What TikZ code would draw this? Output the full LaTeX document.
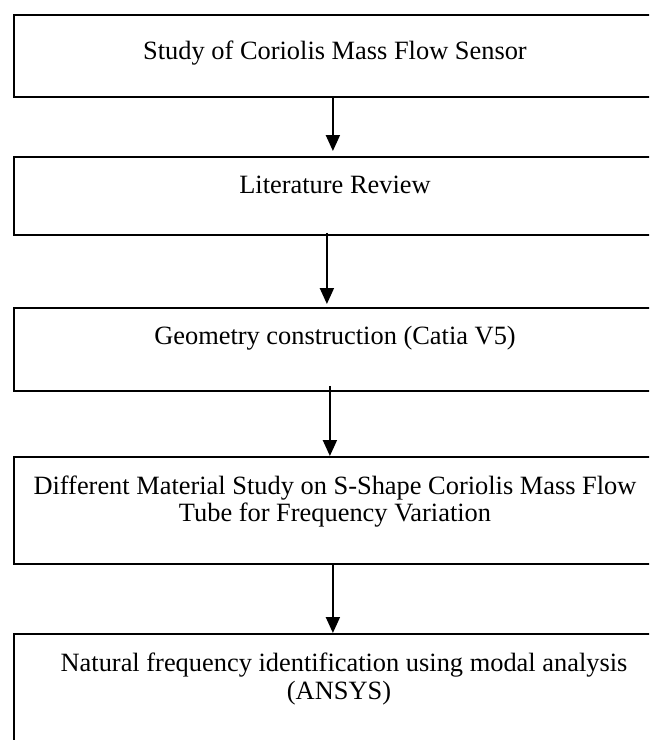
\documentclass[tikz,border=0pt]{standalone}
\usepackage{fontspec}
\setmainfont{Liberation Serif}
\usetikzlibrary{arrows.meta}
\begin{document}
\begin{tikzpicture}[x=1pt,y=-1pt,
  boxstyle/.style={draw=black, line width=1.8pt, rectangle, inner sep=0pt, minimum width=646pt, anchor=north west},
  txt/.style={font=\fontsize{26.4}{28}\selectfont, anchor=base, inner sep=0pt},
  arr/.style={line width=2pt, -{Triangle[length=16pt,width=14pt]}}]
\useasboundingbox (0,0) rectangle (649,740);
\clip (0,0) rectangle (649,740);
\node[boxstyle, minimum height=82pt] (b1) at (13,14) {};
\node[boxstyle, minimum height=78pt] (b2) at (13,156) {};
\node[boxstyle, minimum height=83pt] (b3) at (13,307) {};
\node[boxstyle, minimum height=107pt] (b4) at (13,456) {};
\node[boxstyle, minimum height=120pt] (b5) at (13,633) {};
\node[txt] (t1) at (335,59) {Study of Coriolis Mass Flow Sensor};
\node[txt] (t2) at (335,193) {Literature Review};
\node[txt] (t3) at (335,344) {Geometry construction (Catia V5)};
\node[txt] (t4a) at (335,494) {Different Material Study on S-Shape Coriolis Mass Flow};
\node[txt] (t4b) at (335,521) {Tube for Frequency Variation};
\node[txt] (t5a) at (344,671) {Natural frequency identification using modal analysis};
\node[txt] (t5b) at (339,699) {(ANSYS)};
\draw[arr] ([xshift=-4pt]b1.south) -- ([xshift=-4pt,yshift=5pt]b2.north);
\draw[arr] ([xshift=-10pt,yshift=3pt]b2.south) -- ([xshift=-10pt,yshift=3pt]b3.north);
\draw[arr] ([xshift=-7pt,yshift=6pt]b3.south) -- ([xshift=-7pt]b4.north);
\draw[arr] ([xshift=-4pt]b4.south) -- ([xshift=-4pt]b5.north);
\end{tikzpicture}
\end{document}
